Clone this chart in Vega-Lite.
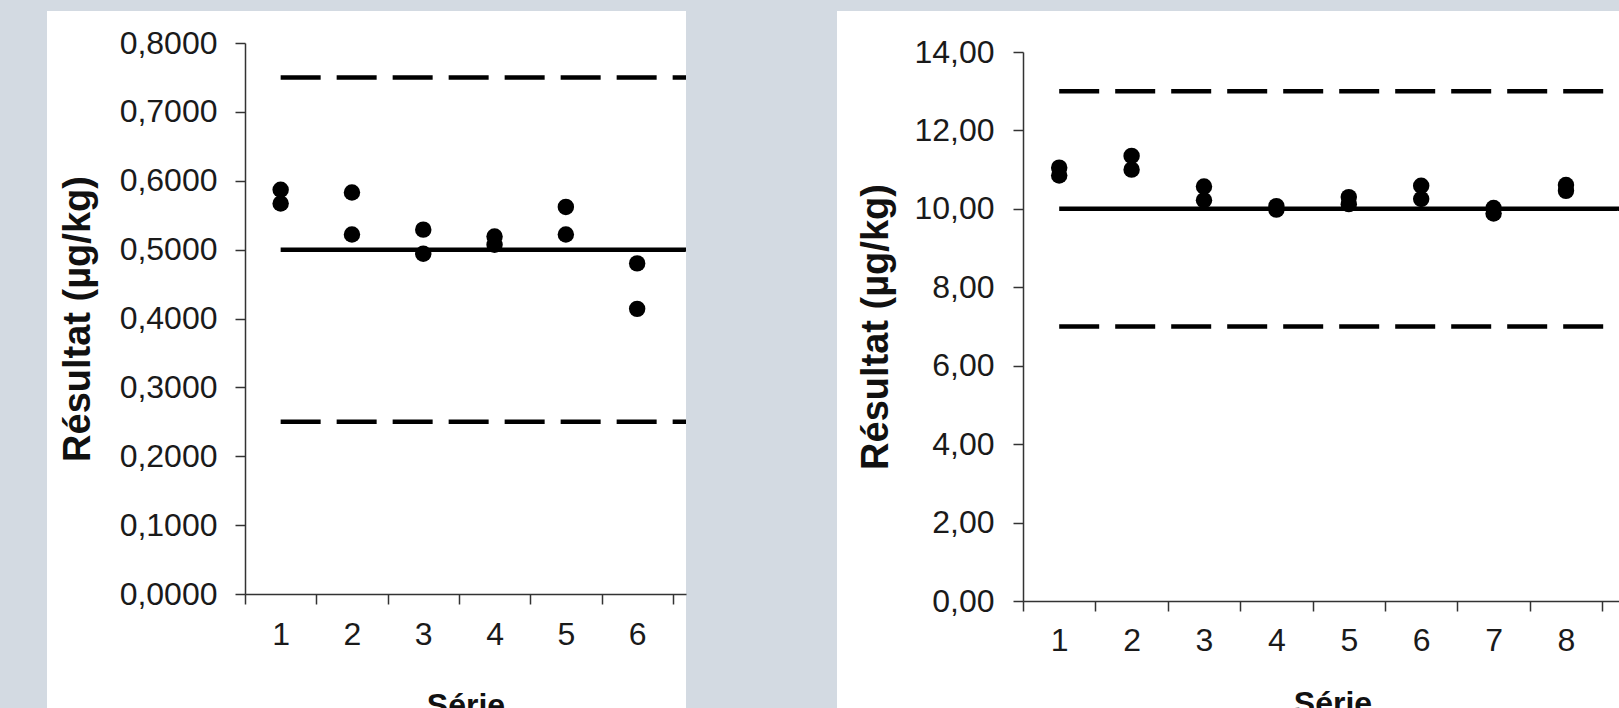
{
  "$schema": "https://vega.github.io/schema/vega-lite/v6.json",
  "background": "#d3dae2",
  "padding": {"left": 47, "top": 11, "right": 0, "bottom": 0},
  "spacing": 128,
  "config": {
    "font": "Liberation Sans",
    "view": {"stroke": null},
    "axis": {
      "grid": false,
      "domainColor": "#333333",
      "domainWidth": 1.5,
      "tickColor": "#333333",
      "tickWidth": 1.5,
      "tickSize": 10,
      "labelFont": "Liberation Sans",
      "labelFontSize": 32,
      "labelColor": "#1a1a1a",
      "titleFont": "Liberation Sans",
      "titleFontWeight": "bold",
      "titleColor": "#111111"
    },
    "axisX": {"titleFontSize": 32},
    "axisY": {"titleFontSize": 38}
  },
  "datasets": {
    "leftPoints": [
      {"serie": 1, "result": 0.587}, {"serie": 1, "result": 0.567},
      {"serie": 2, "result": 0.583}, {"serie": 2, "result": 0.522},
      {"serie": 3, "result": 0.529}, {"serie": 3, "result": 0.494},
      {"serie": 4, "result": 0.519}, {"serie": 4, "result": 0.507},
      {"serie": 5, "result": 0.562}, {"serie": 5, "result": 0.522},
      {"serie": 6, "result": 0.480}, {"serie": 6, "result": 0.414}
    ],
    "leftLines": [
      {"kind": "ref", "value": 0.5, "start": 1, "end": 8},
      {"kind": "limit", "value": 0.75, "start": 1, "end": 8},
      {"kind": "limit", "value": 0.25, "start": 1, "end": 8}
    ],
    "rightPoints": [
      {"serie": 1, "result": 11.05}, {"serie": 1, "result": 10.85},
      {"serie": 2, "result": 11.35}, {"serie": 2, "result": 11.0},
      {"serie": 3, "result": 10.57}, {"serie": 3, "result": 10.22},
      {"serie": 4, "result": 10.07}, {"serie": 4, "result": 9.98},
      {"serie": 5, "result": 10.30}, {"serie": 5, "result": 10.12},
      {"serie": 6, "result": 10.59}, {"serie": 6, "result": 10.25},
      {"serie": 7, "result": 10.02}, {"serie": 7, "result": 9.88},
      {"serie": 8, "result": 10.61}, {"serie": 8, "result": 10.46},
      {"serie": 9, "result": 10.78}, {"serie": 9, "result": 10.72}
    ],
    "rightLines": [
      {"kind": "ref", "value": 10, "start": 1, "end": 11},
      {"kind": "limit", "value": 13, "start": 1, "end": 11},
      {"kind": "limit", "value": 7, "start": 1, "end": 11}
    ]
  },
  "hconcat": [
    {
      "width": 639,
      "height": 697,
      "view": {"fill": "white", "stroke": null},
      "layer": [
        {
          "data": {"name": "leftLines"},
          "mark": {"type": "rule", "clip": true, "strokeWidth": 4.5, "color": "black"},
          "encoding": {
            "x": {
              "field": "start", "type": "quantitative", "title": "Série",
              "scale": {"domain": [0.5, 6.685], "range": [198, 639], "nice": false, "zero": false},
              "axis": {
                "values": [0.5, 1.5, 2.5, 3.5, 4.5, 5.5, 6.5],
                "labelExpr": "datum.value < 6 ? format(datum.value + 0.5, 'd') : ''",
                "labelOffset": 35.65,
                "labelFlush": false,
                "labelOverlap": false,
                "labelPadding": 15,
                "offset": -114,
                "titlePadding": 40
              }
            },
            "x2": {"field": "end"},
            "y": {
              "field": "value", "type": "quantitative", "title": "Résultat (µg/kg)",
              "scale": {"domain": [0, 0.8], "range": [583, 32], "nice": false, "zero": true},
              "axis": {
                "values": [0, 0.1, 0.2, 0.3, 0.4, 0.5, 0.6, 0.7, 0.8],
                "labelExpr": "replace(format(datum.value, '.4f'), '.', ',')",
                "labelPadding": 18,
                "offset": -198,
                "titlePadding": 22
              }
            },
            "strokeDash": {
              "field": "kind", "type": "nominal",
              "scale": {"domain": ["ref", "limit"], "range": [[1, 0], [40, 16]]},
              "legend": null
            }
          }
        },
        {
          "data": {"name": "leftPoints"},
          "mark": {"type": "circle", "size": 270, "color": "black", "opacity": 1},
          "encoding": {
            "x": {"field": "serie", "type": "quantitative", "title": "Série"},
            "y": {"field": "result", "type": "quantitative", "title": "Résultat (µg/kg)"}
          }
        }
      ]
    },
    {
      "width": 805,
      "height": 697,
      "view": {"fill": "white", "stroke": null},
      "layer": [
        {
          "data": {"name": "rightLines"},
          "mark": {"type": "rule", "clip": true, "strokeWidth": 4.5, "color": "black"},
          "encoding": {
            "x": {
              "field": "start", "type": "quantitative", "title": "Série",
              "scale": {"domain": [0.5, 9.05], "range": [186, 805], "nice": false, "zero": false},
              "axis": {
                "values": [0.5, 1.5, 2.5, 3.5, 4.5, 5.5, 6.5, 7.5, 8.5],
                "labelExpr": "format(datum.value + 0.5, 'd')",
                "labelOffset": 36.2,
                "labelFlush": false,
                "labelOverlap": false,
                "labelPadding": 14,
                "offset": -107,
                "titlePadding": 32
              }
            },
            "x2": {"field": "end"},
            "y": {
              "field": "value", "type": "quantitative", "title": "Résultat (µg/kg)",
              "scale": {"domain": [0, 14], "range": [590, 41], "nice": false, "zero": true},
              "axis": {
                "values": [0, 2, 4, 6, 8, 10, 12, 14],
                "labelExpr": "replace(format(datum.value, '.2f'), '.', ',')",
                "labelPadding": 19,
                "offset": -186,
                "titlePadding": 18
              }
            },
            "strokeDash": {
              "field": "kind", "type": "nominal",
              "scale": {"domain": ["ref", "limit"], "range": [[1, 0], [40, 16]]},
              "legend": null
            }
          }
        },
        {
          "data": {"name": "rightPoints"},
          "mark": {"type": "circle", "size": 270, "color": "black", "opacity": 1},
          "encoding": {
            "x": {"field": "serie", "type": "quantitative", "title": "Série"},
            "y": {"field": "result", "type": "quantitative", "title": "Résultat (µg/kg)"}
          }
        }
      ]
    }
  ]
}
